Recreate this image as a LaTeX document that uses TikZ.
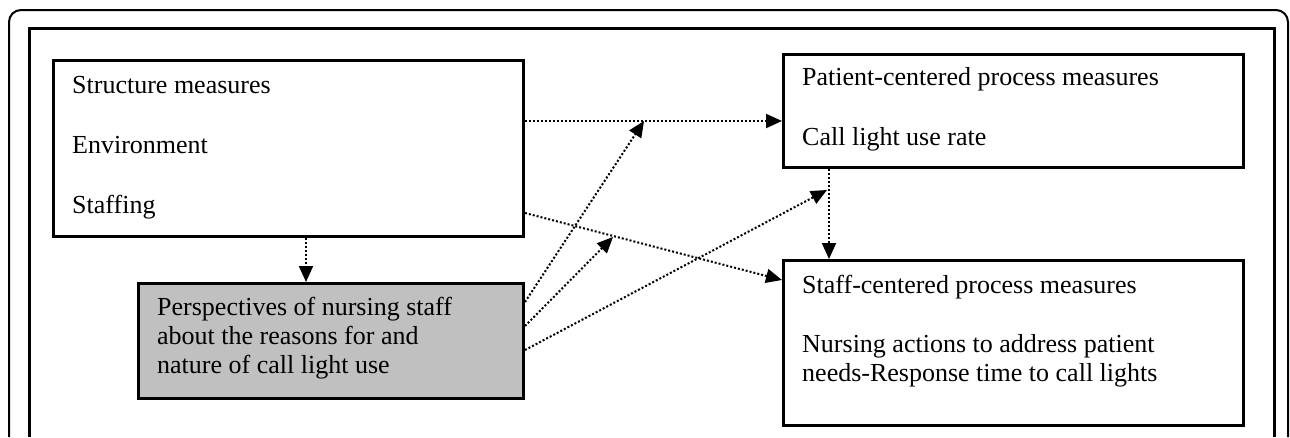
\documentclass[tikz,border=0pt]{standalone}
\usepackage{fontspec}
\setmainfont{Liberation Serif}
\usetikzlibrary{arrows.meta}

\tikzset{
	every box/.style={draw, line width=3pt, inner sep=0pt, anchor=north west},
	box text/.style={anchor=base west, inner sep=0pt, font=\fontsize{26}{29}\selectfont},
	dotarrow/.style={line width=2pt, dash pattern=on 2pt off 2pt, -{Triangle[length=16pt, width=14pt]}}
}

\begin{document}
\begin{tikzpicture}[x=1pt, y=-1pt]
\useasboundingbox (0,0) rectangle (1290,437);
% frames
\draw [line width=2pt, rounded corners=12pt] (9,437) -- (9,10) -- (1288,10) -- (1288,437);
\draw [line width=3pt] (29,437) -- (29,28) -- (1274,28) -- (1274,437);

% boxes
\node [every box, minimum width=470pt, minimum height=176pt] (struct) at (52,59) {};
\node [every box, fill={rgb,255:red,192;green,192;blue,192}, minimum width=385pt, minimum height=115pt] (persp) at (137,282) {};
\node [every box, minimum width=460pt, minimum height=113pt] (pat) at (782,53) {};
\node [every box, minimum width=460pt, minimum height=165pt] (staff) at (782,259) {};

% box texts
\foreach \t [count=\i] in {Structure measures, Environment, Staffing}
	\node [box text] (struct-\i) at (72,33+\i*60) {\t};
\foreach \t [count=\i] in {Perspectives of nursing staff, about the reasons for and, nature of call light use}
	\node [box text] (persp-\i) at (157,286+\i*29) {\t};
\foreach \t [count=\i] in {Patient-centered process measures, Call light use rate}
	\node [box text] (pat-\i) at (802,25+\i*60) {\t};
\node [box text] (staff-1) at (802,293) {Staff-centered process measures};
\foreach \t [count=\i] in {Nursing actions to address patient, needs-Response time to call lights}
	\node [box text] (staff-\i) at (802,323+\i*29) {\t};

% arrow junctions
\coordinate (j1) at (644,121);
\coordinate (j2) at (613,237);
\coordinate (j3) at (827,190);

% connections
\draw [dotarrow] (struct.east |- 0,121) -- (pat.west |- 0,121);
\draw [dotarrow] (struct.east |- 0,213) -- (staff.west |- 0,280);
\draw [dotarrow] (struct.south -| 306,0) -- (persp.north -| 306,0);
\draw [dotarrow] (pat.south -| 829,0) -- (staff.north -| 829,0);
\draw [dotarrow] (persp.east |- 0,302) -- (j1);
\draw [dotarrow] (persp.east |- 0,326) -- (j2);
\draw [dotarrow] (persp.east |- 0,350) -- (j3);

\end{tikzpicture}
\end{document}
